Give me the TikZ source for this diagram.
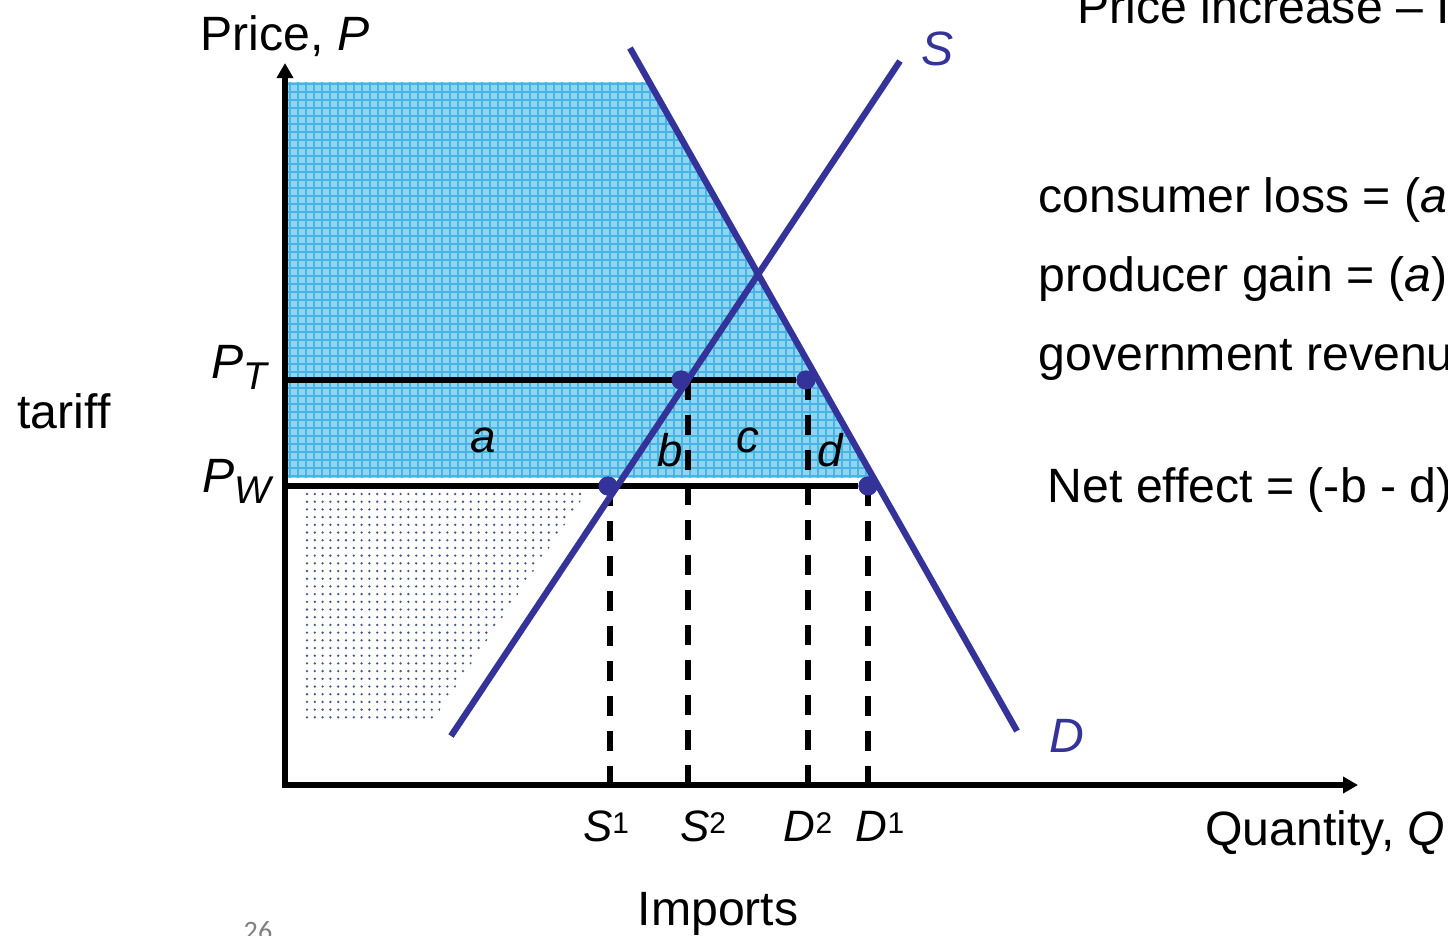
\documentclass[tikz,border=0pt]{standalone}
\usepackage{fontspec}
\setmainfont{Liberation Sans}
\newfontfamily\pagefont{Carlito}
\usepackage{xcolor}
\usepackage{tikz}
\usetikzlibrary{arrows.meta,positioning,calc}

\definecolor{navy}{RGB}{51,51,153}
\definecolor{skyfill}{RGB}{145,212,240}
\definecolor{skygrid}{RGB}{70,180,228}
\definecolor{dotblue}{RGB}{65,90,140}

\newcommand{\subP}[1]{\textit{P}\raisebox{-3.3pt}{\fontsize{11}{11}\selectfont\itshape #1}}
\newcommand{\supQ}[2]{\textit{#1}\raisebox{2pt}{\fontsize{8.5}{8.5}\selectfont #2}}

\begin{document}
\begin{tikzpicture}[
  x=0.01cm, y=-0.01cm,
  font=\fontsize{13.7}{16}\selectfont,
  inner sep=0pt,
  axis/.style={line width=1.9pt,{Triangle[length=0.15cm,width=0.16cm]}-{Triangle[length=0.15cm,width=0.16cm]}},
  curve/.style={navy,line width=1.8pt},
  level/.style={line width=1.8pt},
  guide/.style={line width=1.5pt,dash pattern=on 0.2cm off 0.15cm},
  pt/.style={circle,fill=navy,minimum size=0.19cm},
  area/.style={font=\fontsize{13}{15}\selectfont\itshape,anchor=base},
  qlbl/.style={font=\fontsize{12.5}{14}\selectfont,anchor=base},
  txt/.style={anchor=base west},
]
\useasboundingbox (0,0) rectangle (1448,935);

\coordinate (origin) at (285,785);
\coordinate (ytop)   at (285,63);
\coordinate (xend)   at (1358,785);
\coordinate (pt)     at (285,380);
\coordinate (pw)     at (285,486);
\coordinate (stop)   at (900,61);
\coordinate (sbot)   at (451,736);
\coordinate (dtop)   at (630,48);
\coordinate (dbot)   at (1017,731);
\coordinate (s1x)    at (610,785);
\coordinate (s2x)    at (688,785);
\coordinate (d2x)    at (808,785);
\coordinate (d1x)    at (868,785);

\begin{scope}
  \clip (287,82) -- (649,82) -- (874,478) -- (287,478) -- cycle;
  \fill[skyfill] (287,82) rectangle (880,478);
  \foreach \gx in {290,298,...,878} \draw[skygrid,line width=0.012cm] (\gx,82) -- (\gx,478);
  \foreach \gy in {84,92,...,476} \draw[skygrid,line width=0.012cm] (287,\gy) -- (880,\gy);
\end{scope}

\begin{scope}
  \clip (303,490) -- (588,490) -- (432,722) -- (303,722) -- cycle;
  \foreach \i in {0,...,36}
    \foreach \j in {0,...,29}
      \fill[dotblue] (307+7.8*\i,494+7.7*\j) circle (0.013cm);
\end{scope}

\node[pt] (s1dot) at (608,486) {};
\node[pt] (s2dot) at (681,380) {};
\node[pt] (d2dot) at (806,380) {};
\node[pt] (d1dot) at (868,486) {};

\draw[level] (pt) -- (d2dot.west);
\draw[level] (pw) -- (d1dot);
\draw[guide] (s1x |- s1dot) -- (s1x);
\draw[guide] (s2x |- s2dot) -- (s2x);
\draw[guide] (d2x |- d2dot) -- (d2x);
\draw[guide] (d1x |- d1dot) -- (d1x);
\draw[axis] (ytop) -- (origin) -- (xend);
\draw[curve] (sbot) -- (stop);
\draw[curve] (dtop) -- (dbot);

\node[pt] at (s1dot) {};
\node[pt] at (s2dot) {};
\node[pt] at (d2dot) {};
\node[pt] at (d1dot) {};

\node[anchor=base] (pricelbl) at (285,50) {Price, \textit{P}};
\node[anchor=base] (tarifflbl) at (64,428) {tariff};
\node[anchor=base east] (ptlbl) at (268,378) {\subP{T}};
\node[anchor=base east] (pwlbl) at (272,492) {\subP{W}};
\node[area] (alb) at (483,452) {a};
\node[area] (blb) at (670,466) {b};
\node[area] (clb) at (748,452) {c};
\node[area] (dlb) at (830,466) {d};
\node[anchor=base,navy,font=\fontsize{13.7}{16}\selectfont\itshape] (slbl) at (938,65) {S};
\node[anchor=base,navy,font=\fontsize{13.7}{16}\selectfont\itshape] (dlbl) at (1067,752) {D};
\node[qlbl] (s1lbl) at (606,841) {\supQ{S}{1}};
\node[qlbl] (s2lbl) at (703,841) {\supQ{S}{2}};
\node[qlbl] (d2lbl) at (808,841) {\supQ{D}{2}};
\node[qlbl] (d1lbl) at (880,841) {\supQ{D}{1}};
\node[anchor=base east] (qtylbl) at (1446,845) {Quantity, \textit{Q}};
\node[anchor=base] (implbl) at (718,925) {Imports};
\node[anchor=base,font=\pagefont\fontsize{8}{9}\selectfont,gray] (pagelbl) at (258,940) {26};

\node[txt] (titlelbl) at (1077,23) {Price increase – I};
\node[txt] (conslbl) at (1038,212) {consumer loss = (\textit{a} + \textit{b} + \textit{c} + \textit{d})};
\node[txt] (prodlbl) at (1038,291) {producer gain = (\textit{a})};
\node[txt] (govlbl) at (1038,370) {government revenue = (\textit{c})};
\node[txt] (netlbl) at (1047,502) {Net effect = (-b - d)};
\end{tikzpicture}
\end{document}
